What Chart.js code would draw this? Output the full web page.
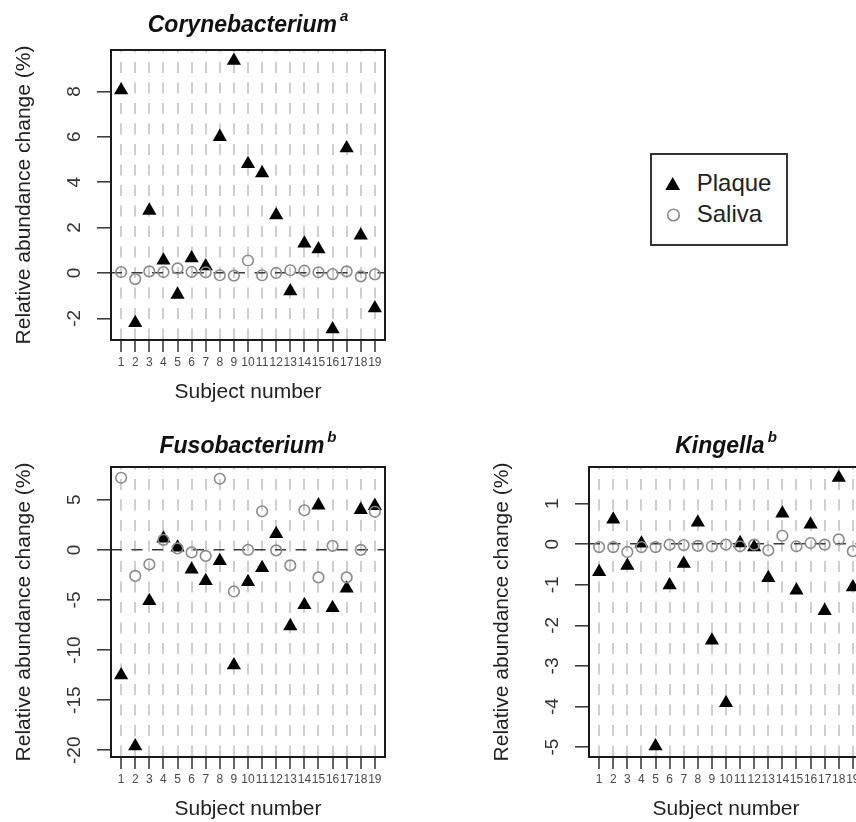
<!DOCTYPE html>
<html>
<head>
<meta charset="utf-8">
<script src="https://cdn.jsdelivr.net/npm/chart.js@4.4.1/dist/chart.umd.min.js"></script>
<style>
  html, body { margin: 0; padding: 0; width: 856px; height: 822px; overflow: hidden; background: #fff; }
  canvas { position: absolute; }
  #c1 { left: 0; top: 0; }
  #c2 { left: 0; top: 417px; }
  #c3 { left: 478px; top: 417px; }
  .legend { position: absolute; left: 650px; top: 153px; width: 134px; height: 89px; border: 2px solid #333;
            font: 24px "Liberation Sans", Arial, sans-serif; color: #222; }
  .legend svg { position: absolute; left: 0; top: 0; }
  .legend .row { position: absolute; left: 44.7px; height: 28px; line-height: 28px; white-space: nowrap; }
</style>
</head>
<body>
<canvas id="c1" width="400" height="405"></canvas>
<canvas id="c2" width="400" height="405"></canvas>
<canvas id="c3" width="400" height="405"></canvas>
<div class="legend">
  <svg width="134" height="89">
    <polygon points="20.7,22.1 13.3,34.9 28.1,34.9" fill="#000"></polygon>
    <circle cx="21.5" cy="60" r="5.8" fill="none" stroke="#8c8c8c" stroke-width="1.6"></circle>
  </svg>
  <div class="row" style="top:14.3px">Plaque</div>
  <div class="row" style="top:45.2px">Saliva</div>
</div>
<script>
(function () {
  'use strict';

  var SUBJECTS = [1, 2, 3, 4, 5, 6, 7, 8, 9, 10, 11, 12, 13, 14, 15, 16, 17, 18, 19];

  var CORY_PLAQUE = [8.05, -2.2, 2.75, 0.55, -0.95, 0.65, 0.3, 6.0, 9.35, 4.8, 4.4, 2.55, -0.8, 1.3, 1.05, -2.48, 5.5, 1.65, -1.55];
  var CORY_SALIVA = [0.04, -0.27, 0.07, 0.04, 0.2, 0.05, 0.03, -0.1, -0.12, 0.55, -0.1, 0.0, 0.12, 0.1, 0.03, -0.05, 0.07, -0.15, -0.06];
  var CORY_Y_TICKS = [-2, 0, 2, 4, 6, 8];

  var FUSO_PLAQUE = [-12.5, -19.6, -5.1, 1.15, 0.25, -1.95, -3.1, -1.1, -11.5, -3.2, -1.8, 1.6, -7.6, -5.5, 4.45, -5.8, -3.85, 4.0, 4.4];
  var FUSO_SALIVA = [7.2, -2.6, -1.45, 1.0, 0.15, -0.25, -0.6, 7.1, -4.15, 0.0, 3.85, -0.05, -1.55, 3.95, -2.75, 0.4, -2.75, 0.0, 3.8];
  var FUSO_Y_TICKS = [-20, -15, -10, -5, 0, 5];

  var KING_PLAQUE = [-0.68, 0.61, -0.53, 0.02, -4.98, -1.01, -0.48, 0.54, -2.37, -3.91, 0.03, -0.07, -0.83, 0.76, -1.14, 0.49, -1.64, 1.64, -1.06];
  var KING_SALIVA = [-0.07, -0.07, -0.19, -0.07, -0.07, -0.01, -0.02, -0.04, -0.05, -0.01, -0.05, -0.01, -0.15, 0.21, -0.05, 0.03, -0.01, 0.12, -0.17];
  var KING_Y_TICKS = [-5, -4, -3, -2, -1, 0, 1];

  var SERIES_NAMES = ['Plaque', 'Saliva'];
  var X_TITLE = 'Subject number';
  var Y_TITLE = 'Relative abundance change (%)';

  var FONT = '"Liberation Sans", Arial, sans-serif';

  // same 4% padding R uses for its default axis limits
  function rLimits(values) {
    var lo = Math.min.apply(null, values);
    var hi = Math.max.apply(null, values);
    var pad = (hi - lo) * 0.04;
    return [lo - pad, hi + pad];
  }

  function points(values) {
    return SUBJECTS.map(function (s, i) { return { x: s, y: values[i] }; });
  }

  // plot box, rotated y labels and the italic title with its superscript
  var panelDecor = {
    id: 'panelDecor',
    afterDraw: function (chart, args, opts) {
      var ctx = chart.ctx;
      var a = chart.chartArea;
      var y = chart.scales.y;
      ctx.save();
      ctx.strokeStyle = '#1a1a1a';
      ctx.lineWidth = 2;
      ctx.strokeRect(a.left, a.top, a.right - a.left, a.bottom - a.top);

      ctx.fillStyle = '#333';
      ctx.font = '19px ' + FONT;
      ctx.textAlign = 'center';
      ctx.textBaseline = 'middle';
      y.ticks.forEach(function (t) {
        ctx.save();
        ctx.translate(a.left - 36, y.getPixelForValue(t.value));
        ctx.rotate(-Math.PI / 2);
        ctx.fillText(String(t.value), 0, 0);
        ctx.restore();
      });

      var mainFont = 'italic bold 23px ' + FONT;
      var supFont = 'italic bold 15px ' + FONT;
      ctx.fillStyle = '#111';
      ctx.textAlign = 'left';
      ctx.textBaseline = 'alphabetic';
      ctx.font = mainFont;
      var w1 = ctx.measureText(opts.text).width;
      ctx.font = supFont;
      var w2 = ctx.measureText(opts.sup).width;
      var x0 = (a.left + a.right) / 2 - (w1 + 3 + w2) / 2;
      ctx.font = mainFont;
      ctx.fillText(opts.text, x0, opts.baseline);
      ctx.font = supFont;
      ctx.fillText(opts.sup, x0 + w1 + 3, opts.baseline - 11);
      ctx.restore();
    }
  };

  function mountPanel(id, title, sup, baseline, plaque, saliva, yTicks) {
    var el = document.getElementById(id);
    if (!el) return;
    var xLim = rLimits(SUBJECTS);
    var yLim = rLimits(plaque.concat(saliva));
    new Chart(el, {
      type: 'scatter',
      data: {
        datasets: [{
          label: SERIES_NAMES[0],
          data: points(plaque),
          pointStyle: 'triangle',
          pointRadius: 8.2,
          pointHoverRadius: 8.2,
          backgroundColor: '#000',
          borderColor: '#000',
          borderWidth: 0,
          order: 1
        }, {
          label: SERIES_NAMES[1],
          data: points(saliva),
          pointStyle: 'circle',
          pointRadius: 5.3,
          pointHoverRadius: 5.3,
          backgroundColor: 'rgba(0,0,0,0)',
          borderColor: '#8c8c8c',
          borderWidth: 1.6,
          order: 0
        }]
      },
      options: {
        responsive: false,
        animation: false,
        devicePixelRatio: 1,
        layout: { padding: { left: 0, top: 50, right: 15, bottom: 0 } },
        plugins: {
          legend: { display: false },
          tooltip: { enabled: false },
          title: { display: false },
          panelDecor: { text: title, sup: sup, baseline: baseline }
        },
        scales: {
          x: {
            type: 'linear',
            min: xLim[0],
            max: xLim[1],
            afterBuildTicks: function (s) { s.ticks = SUBJECTS.map(function (v) { return { value: v }; }); },
            afterFit: function (s) { s.height = 65; },
            grid: { color: '#cfcfcf', lineWidth: 2, tickColor: '#333', tickWidth: 1.5, tickLength: 12 },
            border: { display: false, dash: [11, 9.5], dashOffset: 8.5 },
            ticks: {
              autoSkip: false, maxRotation: 0, minRotation: 0, padding: 3, color: '#4a4a4a',
              font: { family: FONT, size: 12 },
              callback: function (v) { return String(v); }
            },
            title: { display: true, text: X_TITLE, color: '#222', font: { family: FONT, size: 21 }, padding: 0 }
          },
          y: {
            type: 'linear',
            min: yLim[0],
            max: yLim[1],
            afterBuildTicks: function (s) { s.ticks = yTicks.map(function (v) { return { value: v }; }); },
            afterFit: function (s) { s.width = 111; },
            grid: {
              color: function (c) { return c.tick && c.tick.value === 0 ? '#3a3a3a' : 'rgba(0,0,0,0)'; },
              lineWidth: 1.6, tickColor: '#333', tickWidth: 1.5, tickLength: 14
            },
            border: { display: false, dash: [11, 9.5] },
            ticks: { display: false },
            title: { display: true, text: Y_TITLE, color: '#222', font: { family: FONT, size: 21 }, padding: { top: 11.8, bottom: 0 } }
          }
        }
      },
      plugins: [panelDecor]
    });
  }

  mountPanel('c1', 'Corynebacterium', 'a', 31.7, CORY_PLAQUE, CORY_SALIVA, CORY_Y_TICKS);
  mountPanel('c2', 'Fusobacterium', 'b', 35.7, FUSO_PLAQUE, FUSO_SALIVA, FUSO_Y_TICKS);
  mountPanel('c3', 'Kingella', 'b', 35.7, KING_PLAQUE, KING_SALIVA, KING_Y_TICKS);
})();
</script>
</body>
</html>
